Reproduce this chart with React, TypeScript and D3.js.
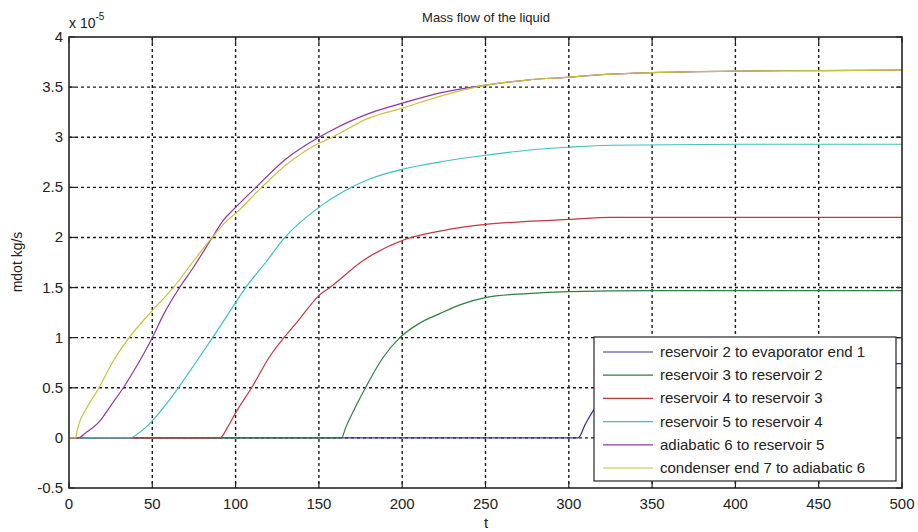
import React, { useEffect, useRef } from 'react';
import * as d3 from 'd3';

// values in units of 1e-5 kg/s
const seriesNames = [
  'reservoir 2 to evaporator end 1',
  'reservoir 3 to reservoir 2',
  'reservoir 4 to reservoir 3',
  'reservoir 5 to reservoir 4',
  'adiabatic 6 to reservoir 5',
  'condenser end 7 to adiabatic 6',
];
const seriesColors = ['#32328f', '#2f7f3f', '#c03a40', '#3fc0c0', '#9334a4', '#c9c23a'];

const blueT = [0, 305.6, 310, 314.6, 325, 340, 360, 390, 430, 470, 500];
const blueV = [0, 0, 0.14, 0.27, 0.42, 0.54, 0.63, 0.69, 0.725, 0.738, 0.74];

const greenT = [0, 163.6, 166, 172.6, 178.6, 188, 198.6, 210, 222.6, 235, 250, 275, 300, 350, 500];
const greenV = [0, 0, 0.1, 0.33, 0.52, 0.79, 1.0, 1.14, 1.24, 1.33, 1.4, 1.44, 1.46, 1.47, 1.47];

const redT = [0, 90.6, 95, 100, 109.6, 120, 138.6, 150, 156.6, 176.6, 200, 225, 250, 275, 300, 325, 400, 500];
const redV = [0, 0, 0.1, 0.25, 0.5, 0.8, 1.19, 1.42, 1.5, 1.77, 1.97, 2.07, 2.13, 2.16, 2.18, 2.2, 2.2, 2.2];

const cyanT = [0, 36.6, 42, 50, 58, 65.6, 76, 86.2, 100, 106, 118, 129.6, 150, 165, 180, 200, 225, 250, 275, 300, 325, 400, 500];
const cyanV = [0, 0, 0.05, 0.17, 0.33, 0.5, 0.75, 1.0, 1.35, 1.5, 1.75, 2.0, 2.3, 2.46, 2.58, 2.68, 2.76, 2.82, 2.87, 2.9, 2.92, 2.93, 2.93];

const purpleT = [0, 5.6, 10, 18.6, 25, 32.6, 40, 50, 57, 65.6, 75, 86, 92.6, 100, 112.2, 130, 150, 156.6, 180.6, 200, 225, 250, 275, 300, 325, 350, 400, 450, 500];
const purpleV = [0, 0, 0.05, 0.17, 0.32, 0.5, 0.7, 1.0, 1.24, 1.48, 1.71, 2.0, 2.17, 2.3, 2.5, 2.78, 3.0, 3.06, 3.24, 3.34, 3.45, 3.52, 3.57, 3.6, 3.63, 3.645, 3.66, 3.665, 3.67];

const yellowT = [0, 4, 5, 6.6, 10, 18, 26, 35.6, 50, 63.6, 75, 86, 95, 100, 115.6, 130, 150, 156.6, 180, 200, 225, 250, 275, 300, 325, 350, 400, 450, 500];
const yellowV = [0, 0, 0.08, 0.17, 0.28, 0.5, 0.75, 0.99, 1.27, 1.52, 1.77, 2.0, 2.17, 2.24, 2.5, 2.72, 2.94, 2.99, 3.19, 3.29, 3.42, 3.52, 3.57, 3.6, 3.63, 3.645, 3.66, 3.665, 3.67];

const xTicks = [0, 50, 100, 150, 200, 250, 300, 350, 400, 450, 500];
const yTicks = [-0.5, 0, 0.5, 1, 1.5, 2, 2.5, 3, 3.5, 4];

export default function App() {
  const ref = useRef<SVGSVGElement>(null);

  useEffect(() => {
    const svg = d3.select(ref.current);
    svg.selectAll('*').remove();

    const left = 69, right = 902, top = 37, bottom = 488;
    const x = d3.scaleLinear().domain([0, 500]).range([left, right]);
    const y = d3.scaleLinear().domain([-0.5, 4]).range([bottom, top]);
    const font = 'Liberation Sans, Arial, sans-serif';

    svg.append('rect').attr('width', 918).attr('height', 532).attr('fill', '#fff');

    // grid (dotted, matlab style)
    const grid = svg.append('g').attr('stroke', '#1a1a1a').attr('stroke-width', 1.4)
      .attr('stroke-dasharray', '3,3');
    xTicks.slice(1, -1).forEach((t) => {
      grid.append('line').attr('x1', x(t)).attr('x2', x(t)).attr('y1', top).attr('y2', bottom);
    });
    yTicks.slice(1, -1).forEach((v) => {
      grid.append('line').attr('y1', y(v)).attr('y2', y(v)).attr('x1', left).attr('x2', right);
    });

    // ticks inside, on all four sides
    const ticks = svg.append('g').attr('stroke', '#222').attr('stroke-width', 1.2);
    xTicks.forEach((t) => {
      ticks.append('line').attr('x1', x(t)).attr('x2', x(t)).attr('y1', bottom).attr('y2', bottom - 6);
      ticks.append('line').attr('x1', x(t)).attr('x2', x(t)).attr('y1', top).attr('y2', top + 6);
    });
    yTicks.forEach((v) => {
      ticks.append('line').attr('y1', y(v)).attr('y2', y(v)).attr('x1', left).attr('x2', left + 6);
      ticks.append('line').attr('y1', y(v)).attr('y2', y(v)).attr('x1', right).attr('x2', right - 6);
    });

    // data lines
    const allT = [blueT, greenT, redT, cyanT, purpleT, yellowT];
    const allV = [blueV, greenV, redV, cyanV, purpleV, yellowV];
    const line = d3.line<[number, number]>()
      .x((d) => x(d[0]))
      .y((d) => y(d[1]))
      .curve(d3.curveMonotoneX);
    allT.forEach((ts, i) => {
      const pts = ts.map((t, j) => [t, allV[i][j]] as [number, number]);
      svg.append('path').attr('d', line(pts)).attr('fill', 'none')
        .attr('stroke', seriesColors[i]).attr('stroke-width', 1.2);
    });

    // axes box
    svg.append('rect').attr('x', left).attr('y', top)
      .attr('width', right - left).attr('height', bottom - top)
      .attr('fill', 'none').attr('stroke', '#262626').attr('stroke-width', 1.6);

    // tick labels
    xTicks.forEach((t) => {
      svg.append('text').attr('x', x(t)).attr('y', 509).attr('text-anchor', 'middle')
        .attr('font-family', font).attr('font-size', 15).attr('fill', '#222').text(String(t));
    });
    yTicks.forEach((v) => {
      svg.append('text').attr('x', 63).attr('y', y(v) + 5).attr('text-anchor', 'end')
        .attr('font-family', font).attr('font-size', 15).attr('fill', '#222').text(String(v));
    });

    // exponent
    const ex = svg.append('text').attr('x', 69).attr('y', 28).attr('font-family', font)
      .attr('font-size', 14).attr('fill', '#222');
    ex.append('tspan').text('x 10');
    ex.append('tspan').attr('dy', -8).attr('font-size', 10).text('-5');

    // title and axis labels
    svg.append('text').attr('x', 486).attr('y', 22).attr('text-anchor', 'middle')
      .attr('font-family', font).attr('font-size', 13).attr('fill', '#222').text('Mass flow of the liquid');
    svg.append('text').attr('x', 486).attr('y', 528).attr('text-anchor', 'middle')
      .attr('font-family', font).attr('font-size', 15).attr('fill', '#222').text('t');
    svg.append('text').attr('transform', 'translate(22,262) rotate(-90)').attr('text-anchor', 'middle')
      .attr('font-family', font).attr('font-size', 14).attr('fill', '#222').text('mdot kg/s');

    // legend
    const lg = svg.append('g');
    lg.append('rect').attr('x', 594).attr('y', 337).attr('width', 302).attr('height', 144)
      .attr('fill', '#fff').attr('stroke', '#262626').attr('stroke-width', 1.2);
    seriesNames.forEach((name, i) => {
      const cy = 352 + i * 23.2;
      lg.append('line').attr('x1', 603).attr('x2', 653).attr('y1', cy).attr('y2', cy)
        .attr('stroke', seriesColors[i]).attr('stroke-width', 1.2);
      lg.append('text').attr('x', 660).attr('y', cy + 5).attr('font-family', font)
        .attr('font-size', 15).attr('fill', '#222').text(name);
    });
  }, []);

  return (
    <svg ref={ref} width={918} height={532}
      style={{ position: 'absolute', left: 0, top: 0, display: 'block' }} />
  );
}
